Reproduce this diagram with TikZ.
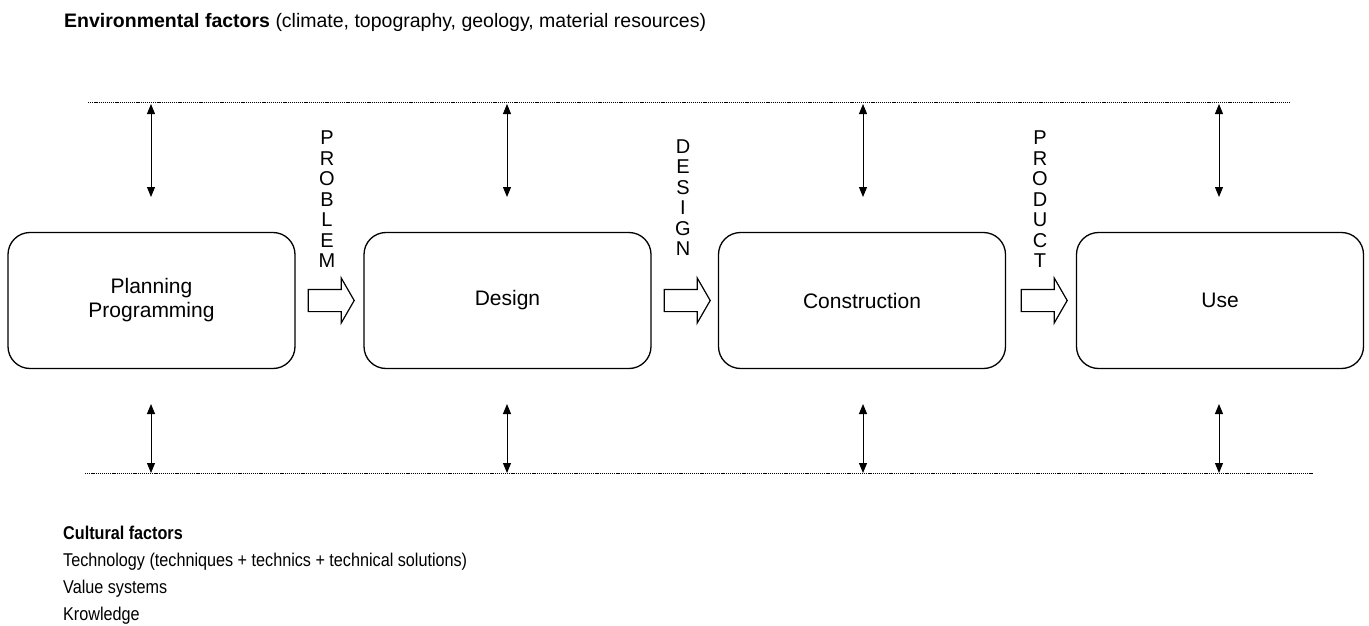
\documentclass[tikz,border=0pt]{standalone}
\usepackage{fontspec}
\setmainfont{Liberation Sans}
\usetikzlibrary{arrows.meta,shapes.arrows}
\begin{document}
\begin{tikzpicture}[x=1pt,y=-1pt,
  stagebox/.style={draw,line width=1.3pt,rounded corners=22pt,minimum width=287pt,minimum height=136pt,align=center,font=\fontsize{21}{24}\selectfont},
  flowarrow/.style={draw,line width=1.2pt,shape=single arrow,inner xsep=0pt,inner ysep=10.5pt,
    single arrow head extend=11.5pt,single arrow tip angle=120,minimum height=46pt},
  letters/.style={align=center,font=\fontsize{20}{20.5}\selectfont,inner sep=0pt},
  boundary/.style={line width=0.9pt,dash pattern=on 1.2pt off 0.9pt},
  exchange/.style={line width=1pt,{Triangle[length=10pt,width=8pt]}-{Triangle[length=10pt,width=8pt]}},
  label/.style={anchor=base west,inner sep=0pt}]
\useasboundingbox (0,0) rectangle (1369,626);

% environmental and cultural boundaries
\coordinate (envL) at (88,102);
\coordinate (envR) at (1290,102);
\coordinate (culL) at (85,473);
\coordinate (culR) at (1313,473);
\draw[boundary] (envL) -- (envR);
\draw[boundary] (culL) -- (culR);

% stages of the building process
\node[stagebox] (plan)  at (151.5,300.5) {Planning\\Programming};
\node[stagebox] (des)   at (507.5,300.5) {Design};
\node[stagebox] (con)   at (862,300.5)   {Construction};
\node[stagebox] (use)   at (1220,300.5)  {Use};

% outputs passed from stage to stage
\node[flowarrow] (a1) at (328,300.5) {};
\node[flowarrow] (a2) at (684,300.5) {};
\node[flowarrow] (a3) at (1041,300.5) {};
\node[letters,anchor=south] (t1) at (327,268) {P\\R\\O\\B\\L\\E\\M};
\node[letters,anchor=south] (t2) at (683,256) {D\\E\\S\\I\\G\\N};
\node[letters,anchor=south] (t3) at (1040,268) {P\\R\\O\\D\\U\\C\\T};

% exchanges with the environment and with culture
\foreach \n/\x in {plan/151,des/507,con/863,use/1219}{
  \coordinate (\n-envtop) at (\x,104);
  \coordinate (\n-envbot) at (\x,197);
  \coordinate (\n-cultop) at (\x,404);
  \coordinate (\n-culbot) at (\x,473);
  \draw[exchange] (\n-envtop) -- (\n-envbot);
  \draw[exchange] (\n-cultop) -- (\n-culbot);
}

% captions
\node[label,font=\fontsize{19.5}{22}\selectfont] (env) at (64,28) {\textbf{Environmental factors} (climate, topography, geology, material resources)};
\begin{scope}[every node/.append style={font=\fontsize{18.5}{20}\selectfont,xscale=0.875,transform shape}]
\node[label] (cul1) at (63,539) {\textbf{Cultural factors}};
\node[label] (cul2) at (63,566) {Technology (techniques + technics + technical solutions)};
\node[label] (cul3) at (63,593) {Value systems};
\node[label] (cul4) at (63,620) {Krowledge};
\end{scope}
\end{tikzpicture}
\end{document}
